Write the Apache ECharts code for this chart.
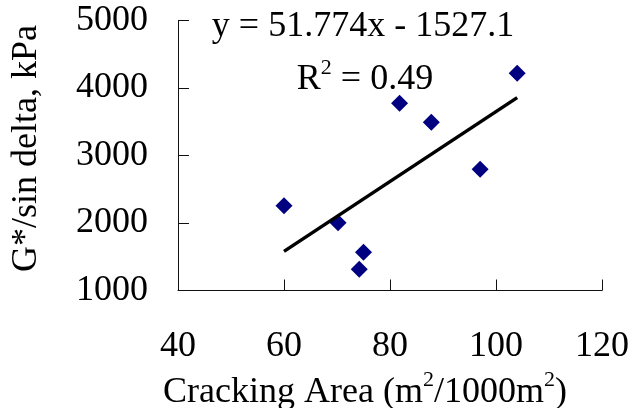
<!DOCTYPE html>
<html>
<head>
<meta charset="utf-8">
<script src="https://cdn.jsdelivr.net/npm/echarts@6/dist/echarts.min.js"></script>
<style>
  html, body { margin: 0; padding: 0; background: #fff; }
  #chart { width: 633px; height: 408px; }
</style>
</head>
<body>
<div id="chart"></div>
<script>
// measured points (cracking area, G*/sin delta)
const crackArea = [60, 70.2, 75, 74.2, 81.8, 87.8, 97, 104]
const gStar = [2256, 2004, 1566, 1314, 3773, 3492, 2796, 4218]
const xTicks = [40, 60, 80, 100, 120]
const yTicks = [1000, 2000, 3000, 4000, 5000]

// trendline as printed on the chart
const slope = 51.774
const intercept = -1527.1
const trendX = [60, 104]
const eqText = 'y = 51.774x - 1527.1'
const r2Text = '{b|R}{s|2}{b| = 0.49}'
const xName = '{b|Cracking Area (m}{s|2}{b|/1000m}{s|2}{b|)}'

const font = 'Liberation Serif'
const axisColor = '#111'
const supRich = {
  b: { fontFamily: font, fontSize: 36, lineHeight: 46, color: '#000' },
  s: { fontFamily: font, fontSize: 22, lineHeight: 22, verticalAlign: 'top', color: '#000' }
}

const chart = echarts.init(document.getElementById('chart'))

chart.setOption({
  animation: false,
  backgroundColor: '#fff',
  grid: { left: 178, right: 31, top: 20.5, bottom: 117.5, containLabel: false, outerBoundsMode: 'none' },
  xAxis: {
    type: 'value',
    min: xTicks[0],
    max: xTicks[xTicks.length - 1],
    interval: 20,
    name: xName,
    nameLocation: 'middle',
    nameGap: 71,
    nameTextStyle: { padding: [0, 50, 0, 0], rich: supRich },
    axisLine: { show: true, lineStyle: { color: axisColor, width: 1 } },
    axisTick: { show: true, inside: true, length: 11, lineStyle: { color: axisColor, width: 1 } },
    axisLabel: { fontFamily: font, fontSize: 36, color: '#000', margin: 38 },
    splitLine: { show: false }
  },
  yAxis: {
    type: 'value',
    min: yTicks[0],
    max: yTicks[yTicks.length - 1],
    interval: 1000,
    name: 'G*/sin delta, kPa',
    nameLocation: 'middle',
    nameGap: 133,
    nameRotate: 90,
    nameTextStyle: { fontFamily: font, fontSize: 36, color: '#000', padding: [0, 0, 0, 14] },
    axisLine: { show: true, lineStyle: { color: axisColor, width: 1 } },
    axisTick: { show: true, inside: true, length: 11, lineStyle: { color: axisColor, width: 1 } },
    axisLabel: { fontFamily: font, fontSize: 36, color: '#000', margin: 30, formatter: v => String(v) },
    splitLine: { show: false }
  },
  series: [
    {
      type: 'scatter',
      symbol: 'diamond',
      symbolSize: 17,
      itemStyle: { color: '#000080', opacity: 1 },
      data: crackArea.map((x, i) => [x, gStar[i]]),
      z: 2
    },
    {
      type: 'line',
      showSymbol: false,
      lineStyle: { color: '#000', width: 3.5 },
      data: trendX.map(x => [x, slope * x + intercept]),
      z: 3
    }
  ],
  graphic: [
    {
      type: 'text',
      x: 363, y: 27,
      style: { text: eqText, fontFamily: font, fontSize: 36, fill: '#000', align: 'center', verticalAlign: 'middle' }
    },
    {
      type: 'text',
      x: 365, y: 80,
      style: { text: r2Text, rich: supRich, align: 'center', verticalAlign: 'middle' }
    }
  ]
})
</script>
</body>
</html>
